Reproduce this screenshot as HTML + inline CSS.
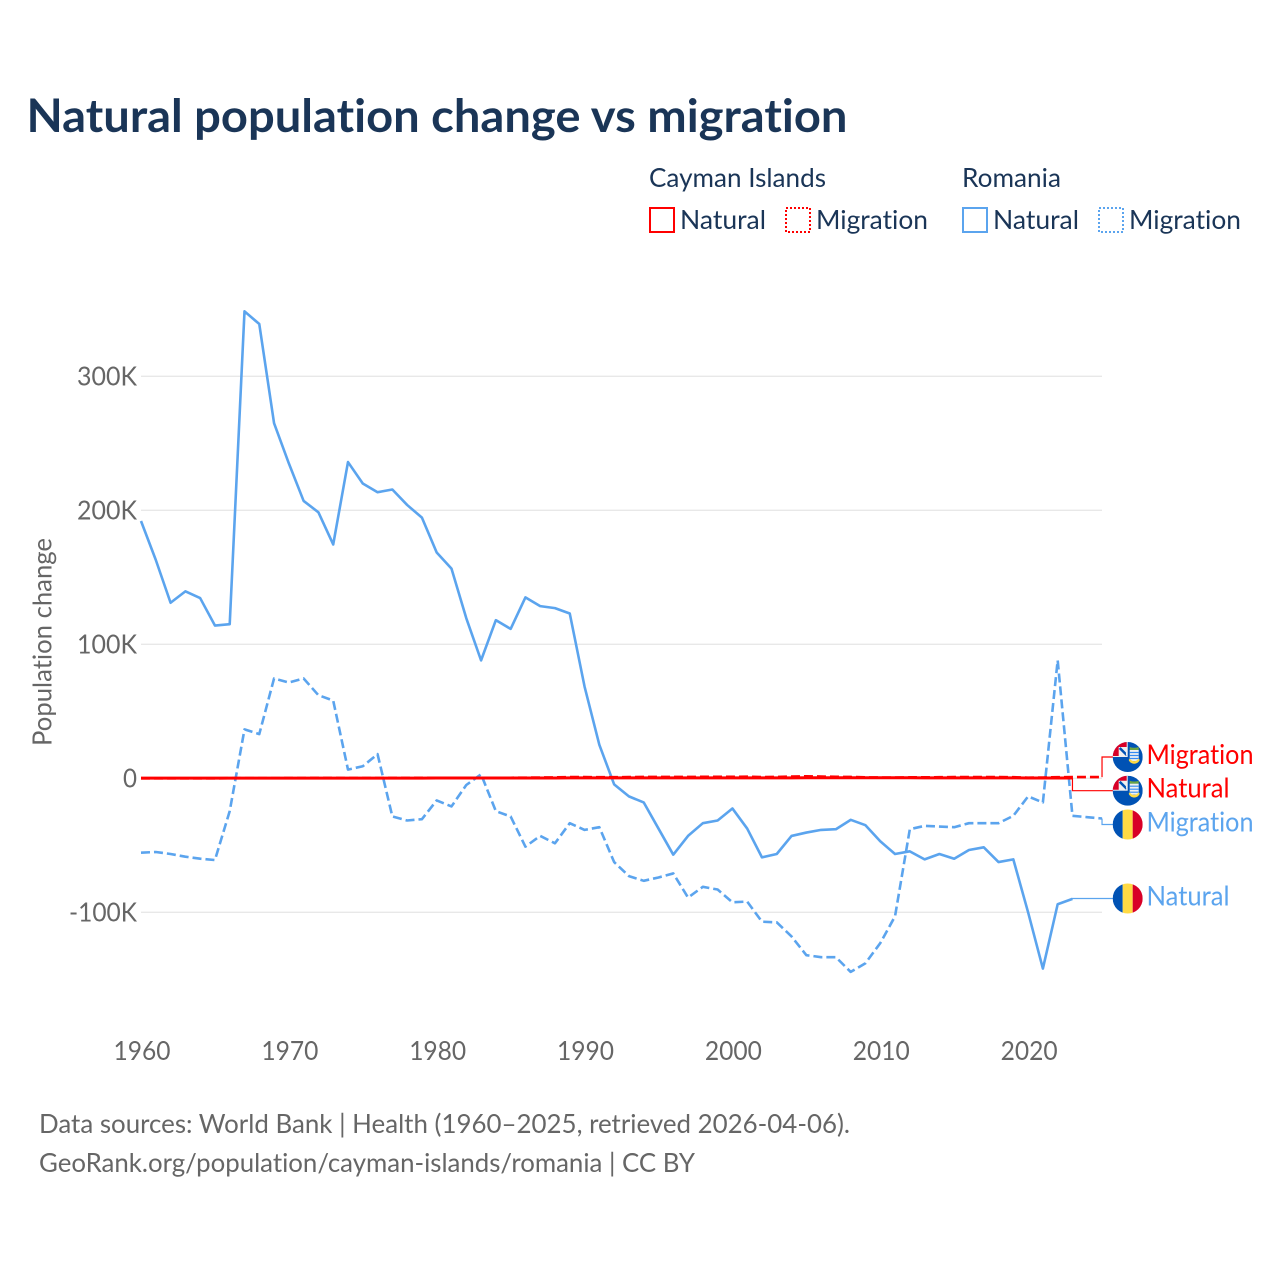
<!DOCTYPE html>
<html lang="en">
<head>
<meta charset="utf-8">
<title>Natural population change vs migration</title>
<style>
html,body{margin:0;padding:0;background:#fff;width:1280px;height:1280px;overflow:hidden}
svg{display:block}
text{font-family:"Lato","Carlito","Liberation Sans",sans-serif;font-variant-ligatures:none}
</style>
</head>
<body>
<svg id="chart" xmlns="http://www.w3.org/2000/svg" width="1280" height="1280" viewBox="0 0 1280 1280">
  <defs>
    <clipPath id="flag-clip"><circle cx="0" cy="0" r="15"/></clipPath>
    <symbol id="flag-ro" overflow="visible">
      <g clip-path="url(#flag-clip)">
        <rect x="-15" y="-15" width="10" height="30" fill="#0052b4"/>
        <rect x="-5" y="-15" width="10" height="30" fill="#ffda44"/>
        <rect x="5" y="-15" width="10" height="30" fill="#d80027"/>
      </g>
    </symbol>
    <symbol id="flag-ky" overflow="visible">
      <g clip-path="url(#flag-clip)">
        <rect x="-15" y="-15" width="30" height="30" fill="#0052b4"/>
        <rect x="-15" y="-15" width="15" height="15" fill="#f0f0f0"/>
        <path d="M-15 -15H-9V-1H-15ZM-15 -15H-1V-10H-15Z" fill="#d80027"/>
        <path d="M-8 -9L-1 -2" stroke="#0052b4" stroke-width="2.5" fill="none"/>
        <path d="M-1 -2L-1 -8" stroke="#f0f0f0" stroke-width="1.5" fill="none"/>
        <path d="M2 -10C5 -9 8 -9 11 -10L11 -7H2Z" fill="#6da544"/>
        <rect x="2" y="-7" width="9" height="11" fill="#f0f0f0"/>
        <path d="M2 -4.5H11M2 -1.5H11M2 1.5H11" stroke="#338af3" stroke-width="1.2" fill="none"/>
        <path d="M1 3C3 8 10 8 12 3L11 1.5C9 5 4 5 2 1.5Z" fill="#ffda44"/>
      </g>
    </symbol>
  </defs>

  <rect width="1280" height="1280" fill="#ffffff"/>

  <text x="26.5" y="132" font-size="46" font-weight="700" fill="#1a3557" textLength="821" lengthAdjust="spacingAndGlyphs">Natural population change vs migration</text>

  <g font-size="26" fill="#1a3557">
    <text x="649" y="187" textLength="177" lengthAdjust="spacingAndGlyphs">Cayman Islands</text>
    <text x="962" y="187" textLength="99" lengthAdjust="spacingAndGlyphs">Romania</text>

    <g>
      <rect x="650" y="208" width="24" height="24" fill="none" stroke="#ff0000" stroke-width="2"/>
      <text x="680" y="229" textLength="86" lengthAdjust="spacingAndGlyphs">Natural</text>
    </g>
    <g>
      <rect x="786" y="208" width="24" height="24" fill="none" stroke="#ff0000" stroke-width="2" stroke-dasharray="2 2"/>
      <text x="816" y="229" textLength="112" lengthAdjust="spacingAndGlyphs">Migration</text>
    </g>
    <g>
      <rect x="963" y="208" width="24" height="24" fill="none" stroke="#5ba4ee" stroke-width="2"/>
      <text x="993" y="229" textLength="86" lengthAdjust="spacingAndGlyphs">Natural</text>
    </g>
    <g>
      <rect x="1099" y="208" width="24" height="24" fill="none" stroke="#5ba4ee" stroke-width="2" stroke-dasharray="2 2"/>
      <text x="1129" y="229" textLength="112" lengthAdjust="spacingAndGlyphs">Migration</text>
    </g>
  </g>

  <g id="grid"></g>
  <g id="y-axis"></g>
  <g id="x-axis"></g>
  <text transform="translate(51.5,642) rotate(-90)" text-anchor="middle" font-size="26" fill="#666666" textLength="208" lengthAdjust="spacingAndGlyphs">Population change</text>
  <g id="series"></g>
  <g id="end-labels"></g>

  <g font-size="26" fill="#666666">
    <text x="39" y="1133" textLength="811" lengthAdjust="spacingAndGlyphs">Data sources: World Bank | Health (1960–2025, retrieved 2026-04-06).</text>
    <text x="39" y="1172" textLength="656" lengthAdjust="spacingAndGlyphs">GeoRank.org/population/cayman-islands/romania | CC BY</text>
  </g>
</svg>
<script>
const startYear = 1960;
const yearTicks = [1960, 1970, 1980, 1990, 2000, 2010, 2020];
const valueTicks = [300, 200, 100, 0, -100];
const valueTickLabels = ['300K', '200K', '100K', '0', '-100K'];

const romaniaNatural = [192,163,131,139.5,134.5,114,115,348.5,339,265,235,207,198.5,174.5,236,220,213.5,215.5,204,194.5,168.5,156.5,119.5,88,118,111.5,135,128.5,127,123,68.5,25,-4.5,-13.5,-18,-37.5,-57,-43,-33.5,-31.5,-22.5,-37.5,-59,-56.5,-43,-40.5,-38.5,-38,-31,-35,-47,-56.5,-54.5,-60.5,-56.5,-60,-53.5,-51.5,-62.5,-60.5,-100,-142,-94,-90];
const romaniaMigration = [-55.5,-55,-56.5,-58.5,-60,-61,-24.5,36.5,33,74.5,71.5,74.5,62,58,6.5,9,18,-28.5,-31.5,-30.5,-16.5,-21,-5,3,-24.5,-28.5,-51,-43,-48.5,-33.5,-38.5,-36.5,-62.5,-73,-76.5,-74,-71,-89,-81,-83,-92.5,-92,-107,-107.5,-118,-132,-133.5,-133.5,-144.5,-138,-123,-103,-38,-35.5,-36,-36.5,-33.5,-33.5,-33.5,-28,-13.5,-18,88,-28,-29,-30];
const caymanNatural = [0.1,0.1,0.1,0.1,0.1,0.1,0.1,0.1,0.1,0.1,0.1,0.1,0.1,0.1,0.1,0.1,0.1,0.1,0.1,0.1,0.2,0.2,0.2,0.2,0.2,0.2,0.2,0.2,0.2,0.3,0.3,0.3,0.3,0.3,0.3,0.3,0.3,0.3,0.3,0.3,0.3,0.3,0.3,0.3,0.3,0.4,0.4,0.4,0.4,0.4,0.4,0.4,0.4,0.3,0.3,0.3,0.3,0.3,0.3,0.3,0.2,0.2,0.2,0.2];
const caymanMigration = [0,0,0,0,0,0,0.1,0.1,0.1,0.1,0.2,0.2,0.3,0.3,0.2,0.2,0.2,0.3,0.3,0.4,0.4,0.4,0.3,0.3,0.4,0.4,0.5,0.6,0.7,0.9,0.9,0.8,0.8,0.9,1,1,1,1,1.1,1.1,1.1,1.2,0.9,1,1.3,1.5,1.3,1.1,1,0.7,0.6,0.6,0.7,0.7,0.8,0.9,0.9,0.9,0.9,0.8,0.5,0.6,0.8,0.9,0.9,0.9];

const BLUE = '#5ba4ee';
const RED = '#ff0000';
const NS = 'http://www.w3.org/2000/svg';

function xScale(year) { return 141 + (year - 1960) * 14.785; }
function yScale(value) { return 778.3 - value * 1.34; }

function svgEl(tag, attrs, parent) {
  const el = document.createElementNS(NS, tag);
  for (const k in attrs) el.setAttribute(k, attrs[k]);
  parent.appendChild(el);
  return el;
}

const gridG = document.getElementById('grid');
const yG = document.getElementById('y-axis');
const xG = document.getElementById('x-axis');
const seriesG = document.getElementById('series');
const endG = document.getElementById('end-labels');

valueTicks.forEach(function (v, i) {
  const line = svgEl('line', {x1: 141, x2: 1102, y1: yScale(v), y2: yScale(v), stroke: '#e8e8e8', 'stroke-width': 1.3}, gridG);
  
  
  const t = svgEl('text', {x: 137, y: yScale(v) + 9, 'text-anchor': 'end', 'font-size': 26, fill: '#666666', textLength: valueTickLabels[i].length === 1 ? 14 : (valueTickLabels[i].length === 5 ? 68 : 60), lengthAdjust: 'spacingAndGlyphs'}, yG);
  t.textContent = valueTickLabels[i];
  
  
});

yearTicks.forEach(function (yr) {
  const t = svgEl('text', {x: xScale(yr) + 1, y: 1060, 'text-anchor': 'middle', 'font-size': 26, fill: '#666666', textLength: 57, lengthAdjust: 'spacingAndGlyphs'}, xG);
  t.textContent = String(yr);
  
  
});

function drawSeries(values, color, width, dash, name) {
  const pts = values.map(function (v, i) {
    return xScale(startYear + i).toFixed(2) + ',' + yScale(v).toFixed(2);
  }).join(' ');
  const attrs = {points: pts, fill: 'none', stroke: color, 'stroke-width': width, 'stroke-linejoin': 'round'};
  if (dash) attrs['stroke-dasharray'] = dash;
  const line = svgEl('polyline', attrs, seriesG);
  
  
}

drawSeries(romaniaNatural, BLUE, 2.6, null, 'line-romania-natural');
drawSeries(romaniaMigration, BLUE, 2.6, '9 4', 'line-romania-migration');
drawSeries(caymanMigration, RED, 2.6, '9 4', 'line-cayman-migration');
drawSeries(caymanNatural, RED, 3, null, 'line-cayman-natural');

function drawEnd(values, color, flag, labelY, label, width, name) {
  const lastYear = startYear + values.length - 1;
  const sx = xScale(lastYear);
  const sy = yScale(values[values.length - 1]);
  const conn = svgEl('polyline', {points: sx + ',' + sy + ' ' + sx + ',' + labelY + ' 1113,' + labelY, fill: 'none', stroke: color, 'stroke-width': 1.2}, endG);
  
  
  const f = svgEl('use', {href: '#' + flag, x: 1127.7, y: labelY}, endG);
  
  
  const t = svgEl('text', {x: 1146.5, y: labelY + 7, 'font-size': 27, fill: color, textLength: width, lengthAdjust: 'spacingAndGlyphs'}, endG);
  t.textContent = label;
  
  
}

drawEnd(romaniaNatural, BLUE, 'flag-ro', 898.5, 'Natural', 83, 'romania-natural');
drawEnd(romaniaMigration, BLUE, 'flag-ro', 824.5, 'Migration', 107, 'romania-migration');
drawEnd(caymanNatural, RED, 'flag-ky', 790.7, 'Natural', 83, 'cayman-natural');
drawEnd(caymanMigration, RED, 'flag-ky', 757, 'Migration', 107, 'cayman-migration');
</script>
</body>
</html>
